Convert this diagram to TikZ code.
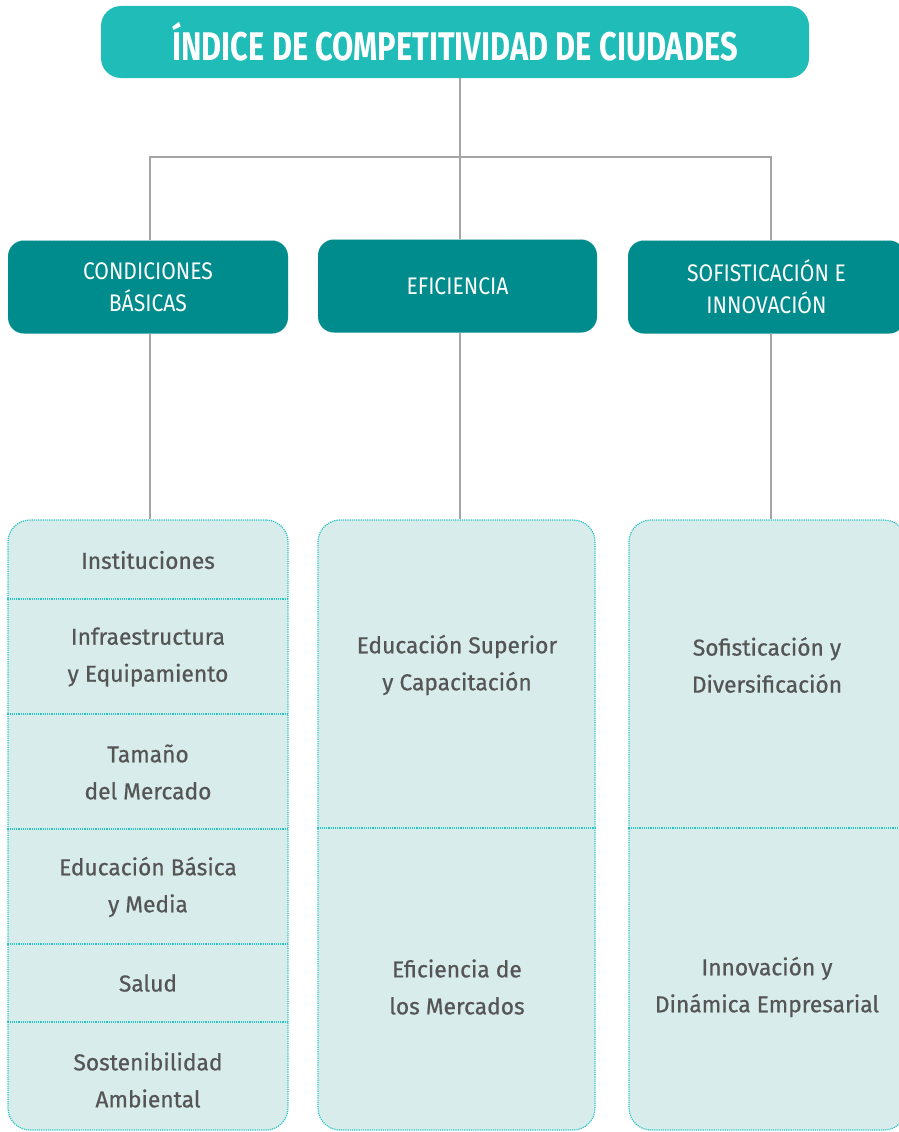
\documentclass[tikz,border=0pt]{standalone}
\usepackage{fontspec}
\setmainfont{Fira Sans}
\newfontfamily\titlefont[FakeStretch=0.77]{Fira Sans}
\newfontfamily\catfont[FakeStretch=0.88]{Fira Sans}
\newfontfamily\itemfont[FakeStretch=0.99,FakeBold=0.6]{Fira Sans}
\definecolor{titleteal}{RGB}{31,188,184}
\definecolor{catteal}{RGB}{0,139,141}
\definecolor{boxfill}{RGB}{216,236,236}
\definecolor{dotteal}{RGB}{40,196,196}
\definecolor{txtgray}{RGB}{85,85,85}
\definecolor{linegray}{RGB}{165,165,165}
\tikzset{
  titlebox/.style={fill=titleteal, rounded corners=20pt, minimum width=708pt, minimum height=72pt, inner sep=0pt, text=white, font=\titlefont\bfseries\fontsize{40}{40}\selectfont},
  catbox/.style={fill=catteal, draw=catteal!70!white, densely dotted, rounded corners=16pt, minimum height=93pt, inner sep=0pt, text=white, align=center, font=\catfont\fontsize{24}{32}\selectfont},
  itembox/.style={fill=boxfill, draw=dotteal, densely dotted, line width=1.2pt, rounded corners=22pt, minimum height=610pt, inner sep=0pt},
  itemtext/.style={text=txtgray, align=center, font=\itemfont\fontsize{23}{37}\selectfont},
  conn/.style={draw=linegray, line width=1.2pt},
  divider/.style={draw=dotteal, densely dotted, line width=1.2pt}
}
\begin{document}
\begin{tikzpicture}[x=1pt,y=-1pt]
\useasboundingbox (0,0) rectangle (899,1132);
\clip (0,0) rectangle (899,1132);
\node[titlebox] (title) at (455,42) {\raisebox{2pt}{ÍNDICE DE COMPETITIVIDAD DE CIUDADES}};
\node[catbox, minimum width=280pt] (cb) at (148,287) {CONDICIONES\\BÁSICAS};
\node[catbox, minimum width=279pt] (ef) at (457.5,286) {EFICIENCIA};
\node[catbox, minimum width=277pt] (si) at (766.5,287) {SOFISTICACIÓN E\\INNOVACIÓN};
\node[itembox, minimum width=280pt] (lb) at (148,825) {};
\node[itembox, minimum width=277pt] (mb) at (456.5,825) {};
\node[itembox, minimum width=277pt] (rb) at (767.5,825) {};
\coordinate (j) at (460,157);
\draw[conn] (title.south -| j) -- (ef.north -| j);
\draw[conn] (cb.north -| 150,0) |- (j) -| (si.north -| 771,0);
\draw[conn] (cb.south -| 150,0) -- (lb.north -| 150,0);
\draw[conn] (ef.south -| j) -- (mb.north -| j);
\draw[conn] (si.south -| 771,0) -- (rb.north -| 771,0);
\foreach \yy in {599,714,829,944,1022}
  \draw[divider] (lb.west |- 0,\yy) -- (lb.east |- 0,\yy);
\draw[divider] (mb.west |- 0,828) -- (mb.east |- 0,828);
\draw[divider] (rb.west |- 0,828) -- (rb.east |- 0,828);
\node[itemtext] (i1) at (148,560) {Instituciones};
\node[itemtext] (i2) at (148,657) {Infraestructura\\y Equipamiento};
\node[itemtext] (i3) at (148,772) {Tamaño\\del Mercado};
\node[itemtext] (i4) at (148,887) {Educación Básica\\y Media};
\node[itemtext] (i5) at (148,983) {Salud};
\node[itemtext] (i6) at (148,1080) {Sostenibilidad\\Ambiental};
\node[itemtext] (m1) at (457,665) {Educación Superior\\y Capacitación};
\node[itemtext] (m2) at (457,987) {Eficiencia de\\los Mercados};
\node[itemtext] (r1) at (767,665) {Sofisticación y\\Diversificación};
\node[itemtext] (r2) at (767,987) {Innovación y\\Dinámica Empresarial};
\end{tikzpicture}
\end{document}
